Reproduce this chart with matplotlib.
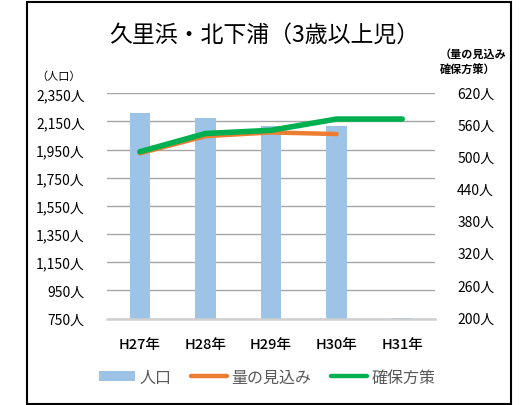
import numpy as np
import matplotlib
matplotlib.use('agg')
import matplotlib.pyplot as plt
from matplotlib.patches import Rectangle, Patch
from matplotlib.lines import Line2D
from matplotlib.transforms import ScaledTranslation

plt.rcParams['font.family'] = ['Noto Sans CJK JP', 'DejaVu Sans']

# data
years = ['H27年', 'H28年', 'H29年', 'H30年', 'H31年']
population = [2210, 2174, 2120, 2117, 755]
demand = [508, 540, 547, 544]
supply = [511, 545, 551, 572, 572]

left_ticks = [750, 950, 1150, 1350, 1550, 1750, 1950, 2150, 2350]
right_ticks = [200, 260, 320, 380, 440, 500, 560, 620]

bar_c = '#9dc3e6'
orange = '#ed7d31'
green = '#00b050'

fig = plt.figure(figsize=(5.31, 4.06), dpi=100)
ax = fig.add_axes([107/531, 86.5/406, 328/531, 225.2/406])
ax2 = ax.twinx()

x = np.arange(len(years))
ax.bar(x, np.array(population) - 750, bottom=750, width=0.31, color=bar_c, zorder=2)
ax.set_ylim(750, 2350)
ax.set_yticks(left_ticks)
ax.set_yticklabels([f'{v:,}人' for v in left_ticks], fontsize=10)
ax.grid(axis='y', color='#a6a6a6', linewidth=1.0, zorder=0)
ax.set_axisbelow(True)
ax.set_xlim(-0.5, 4.5)
ax.set_xticks(x)
ax.set_xticklabels(years, fontsize=10.5, fontweight='medium')
ax.tick_params(axis='both', length=0)
ax.tick_params(axis='y', pad=16)
ax.tick_params(axis='x', pad=13)
for s in ['top', 'left', 'right']:
    ax.spines[s].set_visible(False)
ax.spines['bottom'].set_color('#d0d0d0')
ax.spines['bottom'].set_linewidth(1.8)

ax2.plot(x[:len(demand)], demand, color=orange, linewidth=3.2, solid_capstyle='round',
         solid_joinstyle='round', zorder=3)
ax2.plot(x, supply, color=green, linewidth=4.0, solid_capstyle='round',
         solid_joinstyle='round', zorder=4)
ax2.set_ylim(200, 620)
ax2.set_yticks(right_ticks)
ax2.set_yticklabels([f'{v}人' for v in right_ticks], fontsize=10)
ax2.tick_params(axis='y', length=0, pad=16)
for lbl in ax2.get_yticklabels():
    lbl.set_transform(lbl.get_transform() + ScaledTranslation(0, 1.5/100, fig.dpi_scale_trans))
for s in ['top', 'left', 'right', 'bottom']:
    ax2.spines[s].set_visible(False)

fig.text(264/531, 1 - 35/406, '久里浜・北下浦（3歳以上児）', fontsize=16.5,
         ha='center', va='center')
fig.text(59/531, 1 - 77/406, '（人口）', fontsize=8, ha='center', va='center')
fig.text(440/531, 1 - 62.5/406, '（量の見込み\n確保方策）', fontsize=8,
         fontweight='bold', ha='left', va='center', linespacing=1.35)

# legend
handles = [Patch(facecolor=bar_c),
           Line2D([], [], color=orange, linewidth=3.2, solid_capstyle='round'),
           Line2D([], [], color=green, linewidth=3.2, solid_capstyle='round')]
leg = fig.legend(handles, ['人口', '量の見込み', '確保方策'], loc='center',
                 bbox_to_anchor=(267/531, 1 - 378/406), ncol=3, frameon=False,
                 fontsize=11.5, handlelength=2.3, handleheight=0.6,
                 columnspacing=1.2, handletextpad=0.25)
for t in leg.get_texts():
    t.set_color('#595959')

fig.patches.append(Rectangle((27/531, 1/406), 484/531, 402/406, transform=fig.transFigure,
                             fill=False, edgecolor='black', linewidth=1.5))

fig.savefig('out.png', dpi=100)
